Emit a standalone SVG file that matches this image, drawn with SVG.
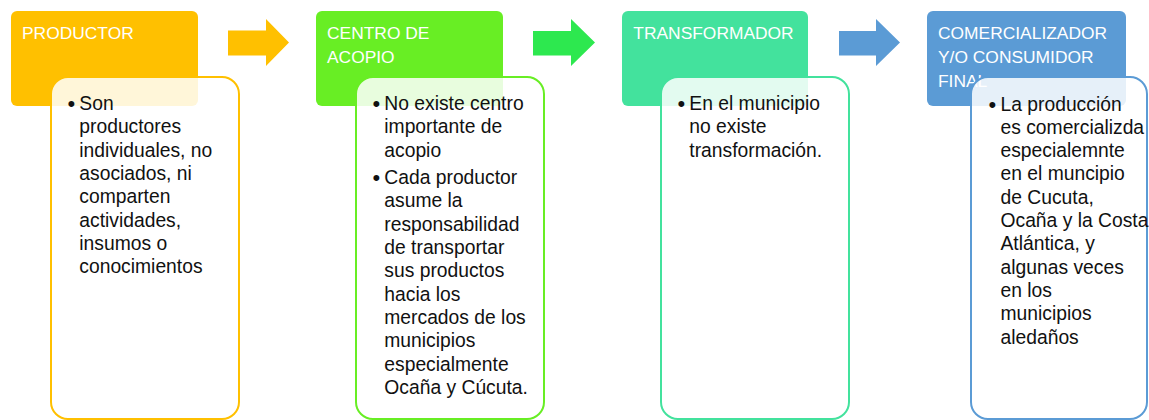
<svg xmlns="http://www.w3.org/2000/svg" width="1149" height="420" viewBox="0 0 1149 420">
<style>
.hd{font-family:"Liberation Sans",Arial,sans-serif;font-size:17.4px;fill:#FFFFFF}
.bd{font-family:"Liberation Sans",Arial,sans-serif;font-size:19.3px;fill:#111111}
.bl{font-family:"Liberation Sans",Arial,sans-serif;font-size:22px;fill:#111111}
.det{fill:#FFFFFF;fill-opacity:0.85;stroke-width:2}
</style>
<rect width="1149" height="420" fill="#FFFFFF"/>
<g id="connectors">
<polygon points="228,30.5 266,30.5 266,19 289,42.5 266,66 266,55.5 228,55.5" fill="#FFC000"/>
<polygon points="533,31 571,31 571,19 595,42.5 571,66 571,55.5 533,55.5" fill="#2DE84F"/>
<polygon points="839,31 876,31 876,19 900,42.5 876,66 876,55.5 839,55.5" fill="#5B9BD5"/>
</g>
<g id="node-productor">
<rect x="11" y="11" width="187" height="95" rx="6" fill="#FFC000"/>
<text class="hd" x="22" y="39">PRODUCTOR</text>
<rect class="det" x="51" y="77" width="188" height="342" rx="17" stroke="#FFC000"/>
<text class="bl" x="67.5" y="111">•</text>
<text class="bd" x="79.3">
<tspan x="79.3" y="110">Son</tspan>
<tspan x="79.3" y="133.4">productores</tspan>
<tspan x="79.3" y="156.7">individuales, no</tspan>
<tspan x="79.3" y="180">asociados, ni</tspan>
<tspan x="79.3" y="203.4">comparten</tspan>
<tspan x="79.3" y="226.7">actividades,</tspan>
<tspan x="79.3" y="250">insumos o</tspan>
<tspan x="79.3" y="273.4">conocimientos</tspan>
</text>
</g>
<g id="node-centro">
<rect x="316" y="11" width="187" height="95" rx="6" fill="#68EE24"/>
<text class="hd" x="327"><tspan x="327" y="39">CENTRO DE</tspan><tspan x="327" y="62.7">ACOPIO</tspan></text>
<rect class="det" x="356" y="77" width="188" height="342" rx="17" stroke="#68EE24"/>
<text class="bl" x="372.5" y="111">•</text>
<text class="bl" x="372.5" y="185">•</text>
<text class="bd" x="384.3">
<tspan x="384.3" y="110">No existe centro</tspan>
<tspan x="384.3" y="133.3">importante de</tspan>
<tspan x="384.3" y="156.7">acopio</tspan>
<tspan x="384.3" y="184">Cada productor</tspan>
<tspan x="384.3" y="207.3">asume la</tspan>
<tspan x="384.3" y="230.7">responsabilidad</tspan>
<tspan x="384.3" y="254">de transportar</tspan>
<tspan x="384.3" y="277.3">sus productos</tspan>
<tspan x="384.3" y="300.7">hacia los</tspan>
<tspan x="384.3" y="324">mercados de los</tspan>
<tspan x="384.3" y="347.3">municipios</tspan>
<tspan x="384.3" y="370.7">especialmente</tspan>
<tspan x="384.3" y="394">Ocaña y Cúcuta.</tspan>
</text>
</g>
<g id="node-transformador">
<rect x="622" y="11" width="186" height="95" rx="6" fill="#43E29D"/>
<text class="hd" x="633.3" y="39">TRANSFORMADOR</text>
<rect class="det" x="661" y="77" width="188" height="342" rx="17" stroke="#43E29D"/>
<text class="bl" x="677.5" y="111">•</text>
<text class="bd" x="689.3">
<tspan x="689.3" y="110">En el municipio</tspan>
<tspan x="689.3" y="133.3">no existe</tspan>
<tspan x="689.3" y="156.7">transformación.</tspan>
</text>
</g>
<g id="node-comercializador">
<rect x="927" y="11" width="199" height="95" rx="6" fill="#5B9BD5"/>
<text class="hd" x="938"><tspan x="938" y="39">COMERCIALIZADOR</tspan><tspan x="938" y="63">Y/O CONSUMIDOR</tspan><tspan x="938" y="86.5">FINAL</tspan></text>
<rect class="det" x="971" y="77" width="176" height="342" rx="17" stroke="#5B9BD5"/>
<text class="bl" x="988.5" y="111.5">•</text>
<text class="bd" x="1000.5">
<tspan x="1000.5" y="110.5">La producción</tspan>
<tspan x="1000.5" y="133.8">es comercializda</tspan>
<tspan x="1000.5" y="157.1">especialemnte</tspan>
<tspan x="1000.5" y="180.4">en el muncipio</tspan>
<tspan x="1000.5" y="203.7">de Cucuta,</tspan>
<tspan x="1000.5" y="227">Ocaña y la Costa</tspan>
<tspan x="1000.5" y="250.3">Atlántica, y</tspan>
<tspan x="1000.5" y="273.6">algunas veces</tspan>
<tspan x="1000.5" y="296.9">en los</tspan>
<tspan x="1000.5" y="320.2">municipios</tspan>
<tspan x="1000.5" y="343.5">aledaños</tspan>
</text>
</g>
</svg>
